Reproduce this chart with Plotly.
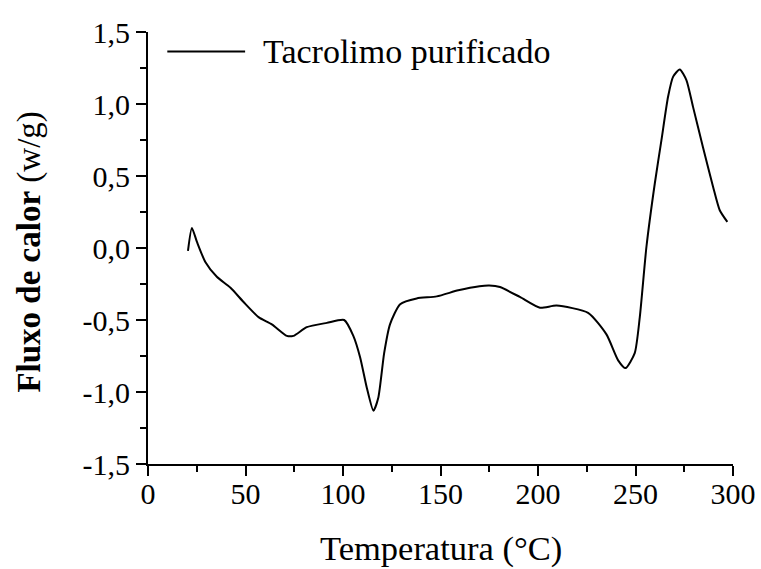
import plotly.graph_objects as go

# DSC curve of purified tacrolimus: temperature (°C) vs heat flow (W/g)
temperatura = [20.5, 22.5, 25.1, 29.4, 35.3, 42.2, 49.0, 56.7, 63.5, 71.2, 74.6,
               81.4, 91.7, 100.6, 105.3, 108.8, 112.2, 115.6, 118.1, 121.1, 124.1,
               129.3, 137.8, 148.1, 159.1, 170.0, 175.0, 180.5, 190.7, 201.0, 209.5,
               225.7, 235.1, 241.1, 244.9, 249.6, 252.2, 255.6, 259.9, 263.3, 266.7,
               269.3, 272.7, 276.1, 279.5, 284.6, 289.8, 293.2, 297.1]
fluxo = [-0.02, 0.139, 0.042, -0.097, -0.20, -0.275, -0.375, -0.48, -0.53, -0.61, -0.61,
         -0.55, -0.52, -0.50, -0.61, -0.76, -0.97, -1.13, -1.04, -0.73, -0.53,
         -0.39, -0.35, -0.336, -0.294, -0.265, -0.26, -0.271, -0.34, -0.415, -0.40,
         -0.45, -0.60, -0.78, -0.834, -0.73, -0.48, 0.007, 0.448, 0.749, 1.05,
         1.19, 1.24, 1.166, 0.98, 0.70, 0.424, 0.262, 0.181]

serie_nome = "Tacrolimo purificado"
x_titulo = "Temperatura (°C)"
y_titulo = "<b>Fluxo de calor</b> (w/g)"

x_ticks = [0, 50, 100, 150, 200, 250, 300]
y_ticks = [-1.5, -1.0, -0.5, 0.0, 0.5, 1.0, 1.5]
y_ticktext = [f"{v:.1f}".replace(".", ",") for v in y_ticks]

FONT = "Liberation Serif, Times New Roman, serif"

fig = go.Figure()
fig.add_trace(go.Scatter(
    x=temperatura, y=fluxo, mode="lines", name=serie_nome,
    line=dict(color="black", width=2, shape="spline", smoothing=0.6),
    showlegend=False,
))

axis_common = dict(
    showline=True, linecolor="black", linewidth=2,
    ticks="outside", ticklen=10, tickwidth=2, tickcolor="black",
    showgrid=False, zeroline=False, mirror=False, automargin=False,
    tickfont=dict(family=FONT, size=30, color="black"),
)

fig.update_xaxes(
    range=[0, 300], tickvals=x_ticks, ticktext=[str(v) for v in x_ticks],
    ticklabelstandoff=-8,
    minor=dict(ticks="outside", ticklen=6, tickwidth=2, tickcolor="black", dtick=25, tick0=0),
    **axis_common,
)
fig.update_yaxes(
    range=[-1.5, 1.5], tickvals=y_ticks, ticktext=y_ticktext,
    minor=dict(ticks="outside", ticklen=6, tickwidth=2, tickcolor="black", dtick=0.25, tick0=0),
    **axis_common,
)

# axis titles
fig.add_annotation(text=x_titulo, xref="paper", yref="paper",
                   x=0.5, y=-0.195, xanchor="center", yanchor="middle",
                   showarrow=False, font=dict(family=FONT, size=34.5, color="black"))
fig.add_annotation(text=y_titulo, xref="paper", yref="paper", textangle=-90,
                   x=-0.203, y=0.49, xanchor="center", yanchor="middle",
                   showarrow=False, font=dict(family=FONT, size=33, color="black"))

# legend sample: short line followed by the series name
fig.add_shape(type="line", xref="paper", yref="paper",
              x0=0.033, x1=0.166, y0=0.955, y1=0.955,
              line=dict(color="black", width=2))
fig.add_annotation(text=serie_nome, xref="paper", yref="paper",
                   x=0.193, y=0.955, xanchor="left", yanchor="middle",
                   showarrow=False, font=dict(family=FONT, size=34, color="black"))

fig.update_layout(
    width=761, height=569,
    margin=dict(l=148, r=28, t=32, b=105),
    plot_bgcolor="white", paper_bgcolor="white",
)

fig.write_html("out.html")
